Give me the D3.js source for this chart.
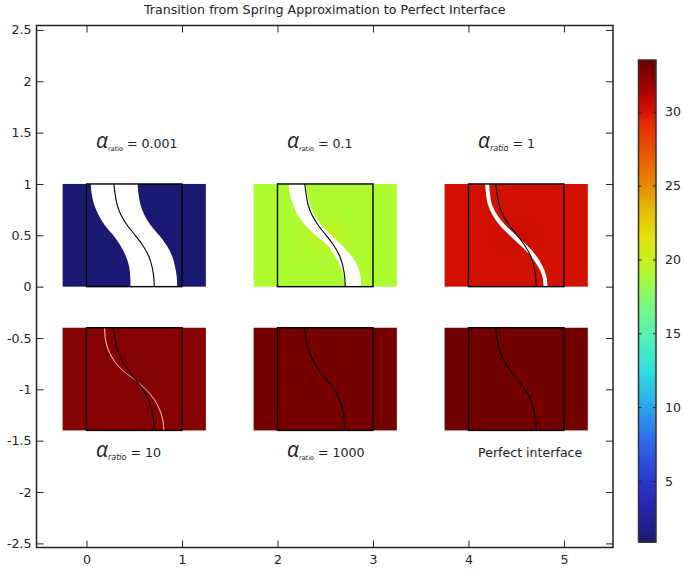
<!DOCTYPE html>
<html>
<head>
<meta charset="utf-8">
<script src="https://cdn.jsdelivr.net/npm/d3@7"></script>
<style>
  html, body { margin: 0; background: #fff; }
  text { font-family: "DejaVu Sans", sans-serif; fill: #222; }
</style>
</head>
<body>
<svg id="chart"></svg>
<script>
const width = 684, height = 574;

const xTicks = [0, 1, 2, 3, 4, 5];
const yTicks = [2.5, 2, 1.5, 1, 0.5, 0, -0.5, -1, -1.5, -2, -2.5];
const barTicks = [5, 10, 15, 20, 25, 30];

// colour table
const colorValues = [0.87, 3, 5, 7.5, 10, 12.5, 15, 17.5, 19, 20, 21.5, 23.5, 25, 27, 29, 30, 31.5, 33.5];
const colorStops = ["#191970", "#2424a8", "#2a34d0", "#2f66e6", "#2aa4ef", "#2fe0e0", "#55f2b0", "#84fa74",
  "#adfc30", "#c6f020", "#e2e40c", "#e6b800", "#e68c00", "#ea5a00", "#e63200", "#d81200", "#a80000", "#680000"];

// one shape of interface, x at each height
const ySamples = [1, 0.9, 0.8, 0.7, 0.6, 0.5, 0.4, 0.3, 0.2, 0.1, 0];
const interfaceX = [0.286, 0.30, 0.32, 0.36, 0.425, 0.51, 0.59, 0.65, 0.685, 0.703, 0.71];

// panels, left to right and top to bottom
const panelColumn = [0, 2, 4, 0, 2, 4];
const panelRow = [0, 0, 0, -1.4, -1.4, -1.4];
const fieldEdge = [1, 19.0, 30.2, 32.6, 33.1, 33.2];
const fieldCentre = [1, 20.0, 30.5, 32.6, 33.1, 33.2];
const labels = ["0.001", "0.1", "1", "10", "1000", null];
const labelItalic = [false, false, true, true, false, false];
const labelTop = [true, true, true, false, false, false];

// white gap between the two deformed interfaces
const gapLeft = [
  [0.045, 0.055, 0.08, 0.125, 0.19, 0.28, 0.355, 0.41, 0.445, 0.458, 0.46],
  [0.12, 0.13, 0.165, 0.21, 0.29, 0.40, 0.525, 0.60, 0.655, 0.695, 0.71],
  [0.175, 0.184, 0.204, 0.25, 0.325, 0.43, 0.545, 0.65, 0.725, 0.774, 0.787],
  [0.184, 0.191, 0.216, 0.269, 0.354, 0.489, 0.614, 0.704, 0.761, 0.794, 0.804],
  [], []
];
const gapRight = [
  [0.535, 0.545, 0.565, 0.605, 0.67, 0.76, 0.84, 0.895, 0.925, 0.945, 0.95],
  [0.297, 0.31, 0.34, 0.385, 0.46, 0.565, 0.675, 0.775, 0.84, 0.87, 0.878],
  [0.217, 0.226, 0.246, 0.30, 0.385, 0.50, 0.615, 0.71, 0.775, 0.816, 0.829],
  [0.196, 0.203, 0.228, 0.281, 0.366, 0.501, 0.626, 0.716, 0.773, 0.806, 0.816],
  [], []
];

const plot = { left: 36.5, right: 613, top: 25.5, bottom: 547.5 };
const bar = { left: 638.5, right: 656, top: 60, bottom: 542 };

const x = d3.scaleLinear([-0.5236, 5.5136], [plot.left, plot.right]);
const y = d3.scaleLinear([-2.54, 2.543], [plot.bottom, plot.top]);
const color = d3.scaleLinear(colorValues, colorStops);
const barY = d3.scaleLinear([0.87, 33.5], [bar.bottom, bar.top]);

const svg = d3.select("#chart")
    .attr("width", width)
    .attr("height", height)
    .attr("viewBox", [0, 0, width, height])
    .style("display", "block");

const defs = svg.append("defs");

panelColumn.forEach((col, i) => {
  const row = panelRow[i];
  const g = svg.append("g");

  const grad = defs.append("radialGradient").attr("id", `field${i}`);
  grad.append("stop").attr("offset", "0%").attr("stop-color", color(fieldCentre[i]));
  grad.append("stop").attr("offset", "45%").attr("stop-color", color(fieldEdge[i]));

  g.append("rect")
      .attr("x", x(col - 0.25))
      .attr("y", y(row + 1))
      .attr("width", x(col + 1.25) - x(col - 0.25))
      .attr("height", y(row) - y(row + 1))
      .attr("fill", `url(#field${i})`);

  if (gapLeft[i].length) {
    const gap = d3.area()
        .y((d, k) => y(row + ySamples[k]))
        .x0((d, k) => x(col + gapLeft[i][k]))
        .x1((d, k) => x(col + gapRight[i][k]))
        .curve(d3.curveCatmullRom);
    g.append("path")
        .attr("d", gap(ySamples))
        .attr("fill", i === 3 ? "#e8b4b4" : "#fff");
  }

  const line = d3.line()
      .y((d, k) => y(row + ySamples[k]))
      .x((d) => x(col + d))
      .curve(d3.curveCatmullRom);
  g.append("path")
      .attr("d", line(interfaceX))
      .attr("fill", "none")
      .attr("stroke", "#000")
      .attr("stroke-width", 1.1);

  g.append("rect")
      .attr("x", x(col))
      .attr("y", y(row + 1))
      .attr("width", x(col + 1) - x(col))
      .attr("height", y(row) - y(row + 1))
      .attr("fill", "none")
      .attr("stroke", "#000")
      .attr("stroke-width", 1.4);

  // label above or below the panel
  const label = g.append("text")
      .attr("x", x(col + 0.1))
      .attr("y", y(labelTop[i] ? row + 1.35 : row - 0.26))
      .style("font-size", "12.6px");
  if (labels[i] === null) {
    label.text("Perfect interface");
  } else {
    label.append("tspan").text("α")
        .style("font-family", '"Open Sans", sans-serif')
        .style("font-weight", 400)
        .style("font-size", "21px")
        .style("font-style", "italic");
    label.append("tspan").text("ratio")
        .attr("dy", 3)
        .style("font-size", labelItalic[i] ? "8px" : "6.5px")
        .style("font-style", labelItalic[i] ? "italic" : "normal");
    label.append("tspan").text(` = ${labels[i]}`)
        .attr("dy", -3);
  }
});

// frame and ticks on all four sides
svg.append("rect")
    .attr("x", plot.left)
    .attr("y", plot.top)
    .attr("width", plot.right - plot.left)
    .attr("height", plot.bottom - plot.top)
    .attr("fill", "none")
    .attr("stroke", "#222")
    .attr("stroke-width", 1.5);

const style = g => {
  g.select(".domain").remove();
  g.selectAll("line").attr("stroke", "#222").attr("stroke-width", 1);
  g.selectAll("text").style("font-size", "12.6px").style("font-family", '"DejaVu Sans", sans-serif').attr("fill", "#222");
};

svg.append("g")
    .attr("transform", `translate(0,${plot.bottom})`)
    .call(d3.axisBottom(x).tickValues(xTicks).tickFormat(d3.format("d")).tickSizeInner(-7).tickSizeOuter(0).tickPadding(8))
    .call(style);

svg.append("g")
    .attr("transform", `translate(0,${plot.top})`)
    .call(d3.axisTop(x).tickValues(xTicks).tickFormat("").tickSizeInner(-7).tickSizeOuter(0))
    .call(style);

svg.append("g")
    .attr("transform", `translate(${plot.left},0)`)
    .call(d3.axisLeft(y).tickValues(yTicks).tickFormat(d => String(d)).tickSizeInner(-7).tickSizeOuter(0).tickPadding(5))
    .call(style);

svg.append("g")
    .attr("transform", `translate(${plot.right},0)`)
    .call(d3.axisRight(y).tickValues(yTicks).tickFormat("").tickSizeInner(-7).tickSizeOuter(0))
    .call(style);

svg.append("text")
    .attr("x", (plot.left + plot.right) / 2)
    .attr("y", 14)
    .attr("text-anchor", "middle")
    .style("font-size", "12.66px")
    .text("Transition from Spring Approximation to Perfect Interface");

// colour bar
const barSteps = d3.range(0.87, 33.5, 0.06);
svg.append("g")
    .attr("shape-rendering", "crispEdges")
  .selectAll("rect")
  .data(barSteps)
  .join("rect")
    .attr("x", bar.left)
    .attr("width", bar.right - bar.left)
    .attr("y", d => barY(d + 0.06))
    .attr("height", 2)
    .attr("fill", d => color(d));

svg.append("rect")
    .attr("x", bar.left)
    .attr("y", bar.top)
    .attr("width", bar.right - bar.left)
    .attr("height", bar.bottom - bar.top)
    .attr("fill", "none")
    .attr("stroke", "#333")
    .attr("stroke-width", 1.5);

svg.append("g")
    .attr("transform", `translate(${bar.right},0)`)
    .call(d3.axisRight(barY).tickValues(barTicks).tickFormat(d3.format("d")).tickSizeInner(-3).tickSizeOuter(0).tickPadding(9))
    .call(style);

svg.append("g")
    .attr("transform", `translate(${bar.left},0)`)
    .call(d3.axisLeft(barY).tickValues(barTicks).tickFormat("").tickSizeInner(-3).tickSizeOuter(0))
    .call(style);
</script>
</body>
</html>
